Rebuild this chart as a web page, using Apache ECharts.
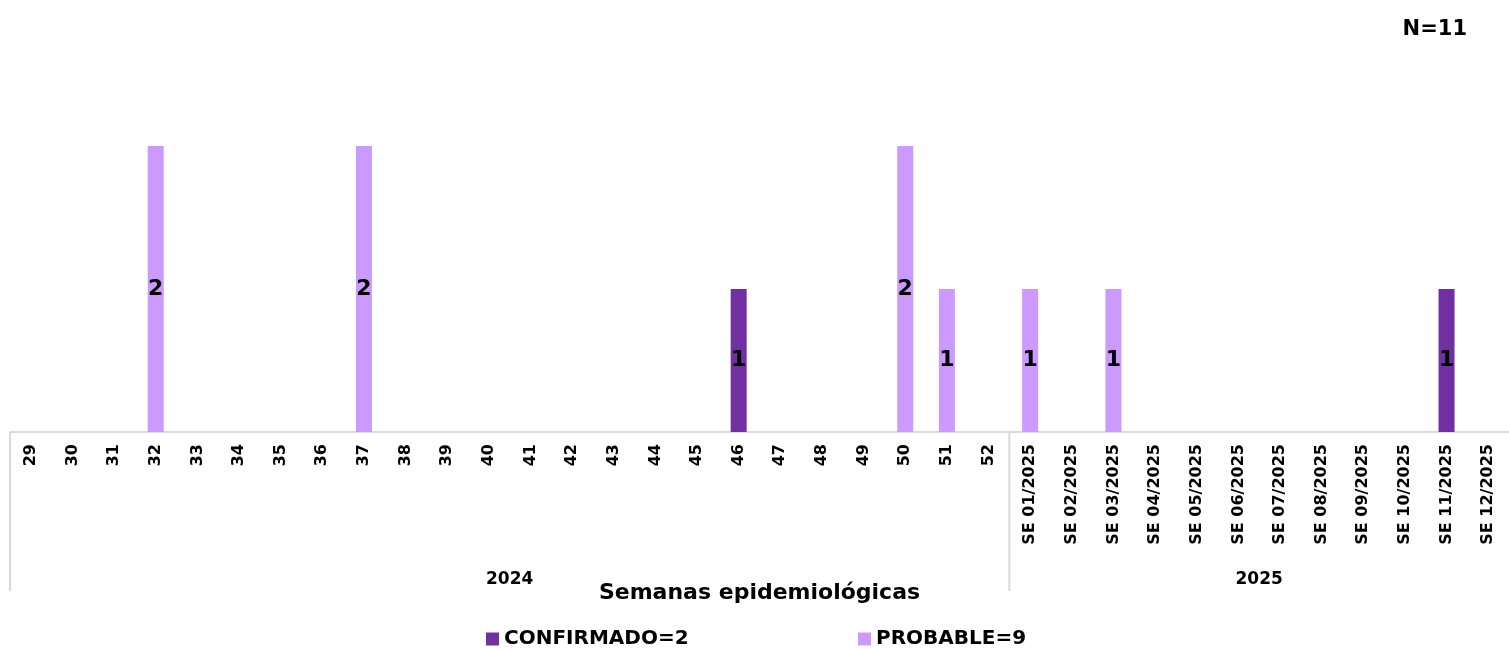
<!DOCTYPE html>
<html>
<head>
<meta charset="utf-8">
<script src="https://cdn.jsdelivr.net/npm/echarts@6/dist/echarts.min.js"></script>
<style>
html,body{margin:0;padding:0;background:#fff;overflow:hidden;}
#c{width:1509px;height:649px;}
</style>
</head>
<body>
<div id="c"></div>
<script>
const weeks2024 = ['29','30','31','32','33','34','35','36','37','38','39','40','41','42','43','44','45','46','47','48','49','50','51','52'];
const weeks2025 = ['SE 01/2025','SE 02/2025','SE 03/2025','SE 04/2025','SE 05/2025','SE 06/2025','SE 07/2025','SE 08/2025','SE 09/2025','SE 10/2025','SE 11/2025','SE 12/2025'];
const yearLabels = ['2024','2025'];
const categories = weeks2024.concat(weeks2025);
// values per category (null = no case)
const confirmado = [null,null,null,null,null,null,null,null,null,null,null,null,null,null,null,null,null,1,null,null,null,null,null,null,
                    null,null,null,null,null,null,null,null,null,null,1,null];
const probable   = [null,null,null,2,null,null,null,null,2,null,null,null,null,null,null,null,null,null,null,null,null,2,1,null,
                    1,null,1,null,null,null,null,null,null,null,null,null];
const seriesNames = ['CONFIRMADO','PROBABLE'];
const colors = ['#7030A0','#CC99FF'];

const sum = a => a.reduce((s,v)=>s+(v||0),0);
const totals = [sum(confirmado), sum(probable)];
const FONT = 'DejaVu Sans';

const chart = echarts.init(document.getElementById('c'));
const labelCfg = {show:true, position:'inside', color:'#000', fontWeight:'bold', fontSize:22, fontFamily:FONT};
const legendText = {fontFamily:FONT, fontWeight:'bold', fontSize:20, color:'#000'};
chart.setOption({
  animation:false,
  title:{text:'N=' + (totals[0]+totals[1]), right:37, top:14, textStyle:{fontFamily:FONT, fontWeight:'bold', fontSize:21, color:'#000'}},
  grid:{left:10, right:-6, top:3, bottom:217, containLabel:false},
  legend:[
    {data:[seriesNames[0]], left:481, top:624, icon:'rect', itemWidth:13, itemHeight:13, itemGap:4,
     formatter:n=>n+'='+totals[0], textStyle:legendText},
    {data:[seriesNames[1]], left:853, top:624, icon:'rect', itemWidth:13, itemHeight:13, itemGap:4,
     formatter:n=>n+'='+totals[1], textStyle:legendText}
  ],
  xAxis:{type:'category', data:categories,
    axisLine:{lineStyle:{color:'#d9d9d9', width:2}},
    axisTick:{show:false},
    axisLabel:{rotate:90, interval:0, margin:12, color:'#000', fontWeight:'bold', fontSize:16, fontFamily:FONT},
    name:'Semanas epidemiológicas', nameLocation:'middle', nameGap:150,
    nameTextStyle:{fontFamily:FONT, fontWeight:'bold', fontSize:22, color:'#000'}
  },
  yAxis:{type:'value', min:0, max:3, show:false, splitLine:{show:false}},
  series:[
    {name:seriesNames[0], type:'bar', stack:'t', data:confirmado, barWidth:16, itemStyle:{color:colors[0]}, label:labelCfg},
    {name:seriesNames[1], type:'bar', stack:'t', data:probable, barWidth:16, itemStyle:{color:colors[1]}, label:labelCfg}
  ]
});

// year group separators and labels, positioned from the axis scale
function drawGroups(){
  const x0 = chart.convertToPixel({xAxisIndex:0}, categories[0]);
  const x1 = chart.convertToPixel({xAxisIndex:0}, categories[1]);
  const step = x1 - x0;
  const yAxis0 = chart.convertToPixel({yAxisIndex:0}, 0);
  const edges = [x0 - step/2, chart.convertToPixel({xAxisIndex:0}, weeks2025[0]) - step/2, chart.convertToPixel({xAxisIndex:0}, categories[categories.length-1]) + step/2];
  const g = [];
  for (let i=0;i<2;i++){
    g.push({type:'line', shape:{x1:edges[i], y1:yAxis0, x2:edges[i], y2:yAxis0+159}, style:{stroke:'#d9d9d9', lineWidth:2}});
    g.push({type:'text', x:(edges[i]+edges[i+1])/2, y:yAxis0+148, style:{text:yearLabels[i], fill:'#000', font:'bold 17px "'+FONT+'"', textAlign:'center', textVerticalAlign:'middle'}});
  }
  chart.setOption({graphic:g});
}
drawGroups();
</script>
</body>
</html>
